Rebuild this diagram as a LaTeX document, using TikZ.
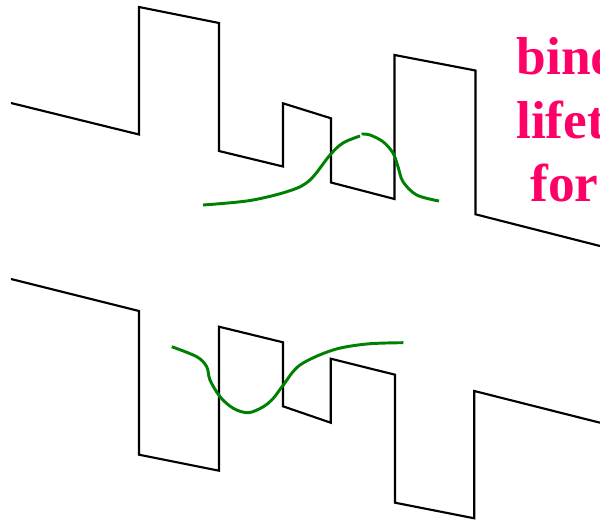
\documentclass[tikz,border=0pt]{standalone}
\usepackage{fontspec}
\setmainfont{Liberation Serif}
\definecolor{labelpink}{RGB}{255,0,102}
\definecolor{wavegreen}{RGB}{0,128,0}
\tikzset{
  band/.style={line width=1.6pt, black, line join=miter},
  wave/.style={line width=2.2pt, wavegreen, line cap=butt},
  label/.style={anchor=base west, inner sep=0pt, text=labelpink, font=\bfseries\fontsize{40}{40}\selectfont}
}
\begin{document}
\begin{tikzpicture}[x=0.75pt,y=-0.75pt]
\useasboundingbox (0,0) rectangle (600,521);
\clip (0,0) rectangle (600,521);
% top band profile
\draw[band] (11,103) -- (139,134.5) -- (139,7) -- (219,23) -- (219,151) -- (283,166.5) -- (283,103.3) -- (331,118.3) -- (331,182.5) -- (394.5,199) -- (394.5,55) -- (475.5,70.5) -- (475.5,214.3) -- (600,246);
% bottom band profile
\draw[band] (11,279) -- (139,311) -- (139,454.7) -- (219,470.7) -- (219,326.7) -- (283,342.3) -- (283,406.3) -- (330.7,422.7) -- (330.7,358.7) -- (395,374.7) -- (395,502.7) -- (474.3,518.3) -- (474.3,391) -- (600,422.7);
% top wavefunction
\draw[wave] plot[smooth, tension=0.55] coordinates {(203,205) (250,200.5) (290,190.7) (310,180) (330,155) (343,143) (360,136)};
\draw[wave] plot[smooth, tension=0.55] coordinates {(361.5,134) (370,135) (383,141.7) (393,153) (398,166.7) (403,181.7) (416.7,195) (439,201)};
% bottom wavefunction
\draw[wave] plot[smooth, tension=0.55] coordinates {(171.7,346.7) (196.7,356.7) (206.7,366.7) (210,380) (220,396.7) (233.3,408.3) (248.3,412.7) (263.3,406.7) (273.3,398.3) (283.3,385) (300,365) (333,350) (366.7,344) (403.3,342.7)};
% label (clipped at right edge)
\node[label] (l1) at (516.5,74) {bind};
\node[label] (l2) at (516,138) {lifet};
\node[label] (l3) at (530,201.5) {for};
\end{tikzpicture}
\end{document}
